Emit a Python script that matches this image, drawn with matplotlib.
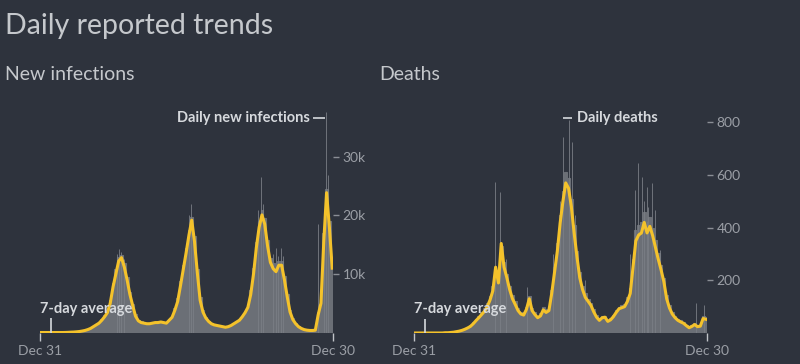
import pandas as pd
import matplotlib.pyplot as plt

plt.rcParams['font.family'] = ['Lato', 'DejaVu Sans']

start = pd.Timestamp('2019-12-31')
end = pd.Timestamp('2021-12-30')
weeks = pd.date_range(start, periods=105, freq='7D')

# weekly readings of the 7-day average
cases_avg = [0, 0, 0, 0, 0, 0, 0, 0, 0, 10, 30, 60, 80, 120, 170, 250, 350, 500, 700, 1000,
             1300, 1600, 2100, 2700, 3400, 5000, 7800, 10000, 12200, 12800, 11200, 9000, 6500, 4600, 2800,
             2000, 1700, 1600, 1500, 1500, 1600, 1700, 1700, 1800, 1700, 1600, 2100, 2600, 3800, 5300,
             8000, 10800, 13600, 16600, 19200, 15500, 10200, 5500, 3500, 2500, 1900, 1500, 1300, 1200, 1100,
             1000, 900, 1000, 1200, 1500, 1800, 2100, 2700, 3400, 4300, 6500, 10000, 14500, 18000, 20100,
             18500, 14800, 12000, 10900, 10400, 11500, 11500, 9000, 6100, 3500, 2200, 1500, 1000, 700, 500,
             400, 350, 350, 400, 3000, 5000, 15500, 23900, 18000, 11000]
# daily reported counts (gray bars)
cases_daily = [0, 0, 0, 0, 0, 0, 0, 0, 0, 20, 40, 70, 90, 140, 190, 280, 400, 560, 780, 1100,
               1400, 1800, 2300, 3000, 3800, 5600, 8400, 10800, 12900, 13200, 11800, 9500, 7000, 4900, 3100,
               2200, 1900, 1700, 1600, 1500, 1700, 1800, 1900, 1900, 1800, 1700, 2300, 2900, 4200, 5900,
               8800, 11500, 14500, 17500, 19800, 16500, 10800, 6000, 3800, 2700, 2000, 1600, 1400, 1300, 1200,
               1100, 1000, 1100, 1300, 1600, 2000, 2300, 2900, 3700, 4700, 7200, 11000, 15500, 19000, 21000,
               19500, 15800, 12800, 11800, 11200, 12300, 12200, 9600, 6600, 3900, 2400, 1600, 1100, 800, 550,
               450, 400, 400, 450, 3500, 5800, 17000, 24500, 19000, 12000]
cases_spike_days = [192, 197, 202, 209, 371, 376, 381, 543, 550, 555, 580, 588, 593, 600, 605, 692, 707, 712, 717]
cases_spike_vals = [13500, 14200, 13800, 12500, 20000, 22000, 17500, 21000, 26500, 22000,
                    13500, 14500, 13000, 14500, 13000, 18500, 19500, 37700, 27000]

deaths_avg = [0, 0, 0, 0, 0, 0, 0, 0, 0, 0, 0, 1, 1, 2, 3, 5, 7, 10, 14, 19,
              25, 35, 47, 58, 70, 82, 100, 125, 160, 250, 190, 340, 250, 210, 165,
              130, 108, 85, 72, 68, 90, 130, 85, 70, 58, 65, 88, 78, 85, 150,
              230, 310, 417, 500, 570, 550, 480, 380, 290, 210, 165, 135, 120, 105, 80,
              60, 48, 58, 60, 44, 50, 62, 78, 92, 96, 100, 120, 150, 250, 350,
              372, 380, 420, 380, 405, 370, 325, 280, 240, 195, 130, 95, 72, 58, 48,
              42, 37, 28, 20, 25, 32, 24, 26, 55, 52]
deaths_daily = [0, 0, 0, 0, 0, 0, 0, 0, 0, 0, 0, 1, 2, 3, 4, 6, 9, 12, 17, 22,
                30, 40, 55, 66, 80, 95, 115, 140, 180, 240, 220, 330, 270, 225, 180,
                145, 120, 95, 80, 78, 100, 140, 95, 80, 65, 75, 100, 90, 95, 165,
                250, 340, 450, 540, 610, 590, 510, 410, 310, 230, 180, 150, 130, 115, 90,
                68, 55, 65, 66, 50, 56, 70, 88, 100, 105, 110, 135, 170, 280, 390,
                410, 420, 460, 420, 440, 400, 355, 305, 260, 210, 145, 105, 80, 65, 55,
                48, 42, 32, 24, 30, 38, 30, 32, 65, 60]
deaths_spike_days = [201, 214, 229, 281, 346, 364, 372, 385, 393, 401, 426,
                     539, 551, 559, 568, 574, 580, 584, 593, 601, 613, 704, 724]
deaths_spike_vals = [572, 537, 280, 176, 300, 500, 745, 809, 727, 450, 200,
                     300, 543, 645, 594, 500, 556, 480, 569, 467, 315, 114, 106]

BG = '#2e333d'
YELLOW = '#f4c22b'
BAR = '#6b6f76'
SPIKE = '#7a7e85'
LABEL = '#d6d9dd'
TICK = '#9b9fa6'

fig = plt.figure(figsize=(8, 3.64), dpi=100, facecolor=BG)
ax1 = fig.add_axes([0.05, 0.0865, 0.36625, 0.643])
ax2 = fig.add_axes([0.5179, 0.0852, 0.3655, 0.651])

def day(d):
    return start + pd.Timedelta(days=d)

panels = [
    (ax1, cases_daily, cases_avg, cases_spike_days, cases_spike_vals, 40000,
     [10000, 20000, 30000], ['10k', '20k', '30k']),
    (ax2, deaths_daily, deaths_avg, deaths_spike_days, deaths_spike_vals, 900,
     [200, 400, 600, 800], ['200', '400', '600', '800']),
]

for ax, daily, avg, sdays, svals, ymax, yt, ytl in panels:
    ax.set_facecolor(BG)
    ax.bar(weeks, daily, width=7, color=BAR, edgecolor=BAR, linewidth=0.8, zorder=1)
    ax.vlines([day(d) for d in sdays], 0, svals, color=SPIKE, lw=0.6, zorder=1.5)
    ax.plot(weeks, avg, color=YELLOW, lw=2.2, solid_joinstyle='round', zorder=3)
    ax.set_xlim(start, end)
    ax.set_ylim(0, ymax)
    for s in ax.spines.values():
        s.set_visible(False)
    ax.set_xticks([start, end])
    ax.set_xticklabels(['Dec 31', 'Dec 30'])
    ax.tick_params(axis='x', colors='#c0c3c8', labelcolor=TICK, length=6, width=1, labelsize=10, pad=3)
    ax.yaxis.tick_right()
    ax.set_yticks(yt)
    ax.set_yticklabels(ytl)
    ax.tick_params(axis='y', colors='#8a8e95', labelcolor=TICK, length=4, width=1, labelsize=10, pad=3)

# annotations
ax1.text(day(0), 4000, '7-day average', color=LABEL, fontsize=10.5, fontweight='bold', va='center', zorder=5)
ax1.vlines(day(27), 0, 2500, color=LABEL, lw=1.2, zorder=5)
ax1.text(day(673), 36700, 'Daily new infections', color=LABEL, fontsize=10.5, fontweight='bold',
         ha='right', va='center')
ax1.hlines(36700, day(680), day(710), color=LABEL, lw=1.2)

ax2.text(day(0), 91, '7-day average', color=LABEL, fontsize=10.5, fontweight='bold', va='center', zorder=5)
ax2.vlines(day(27), 0, 53, color=LABEL, lw=1.2, zorder=5)
ax2.text(day(406), 816, 'Daily deaths', color=LABEL, fontsize=10.5, fontweight='bold', ha='left', va='center')
ax2.hlines(816, day(371), day(394), color=LABEL, lw=1.2)

fig.text(5 / 800, 1 - 26 / 364, 'Daily reported trends', color='#c5c8cc', fontsize=20.5,
         fontweight='normal', va='center', ha='left')
fig.text(5 / 800, 1 - 74 / 364, 'New infections', color='#c5c8cc', fontsize=14, va='center', ha='left')
fig.text(379 / 800, 1 - 74 / 364, 'Deaths', color='#c5c8cc', fontsize=14, va='center', ha='left')

fig.savefig('out.png', dpi=100, facecolor=BG)
